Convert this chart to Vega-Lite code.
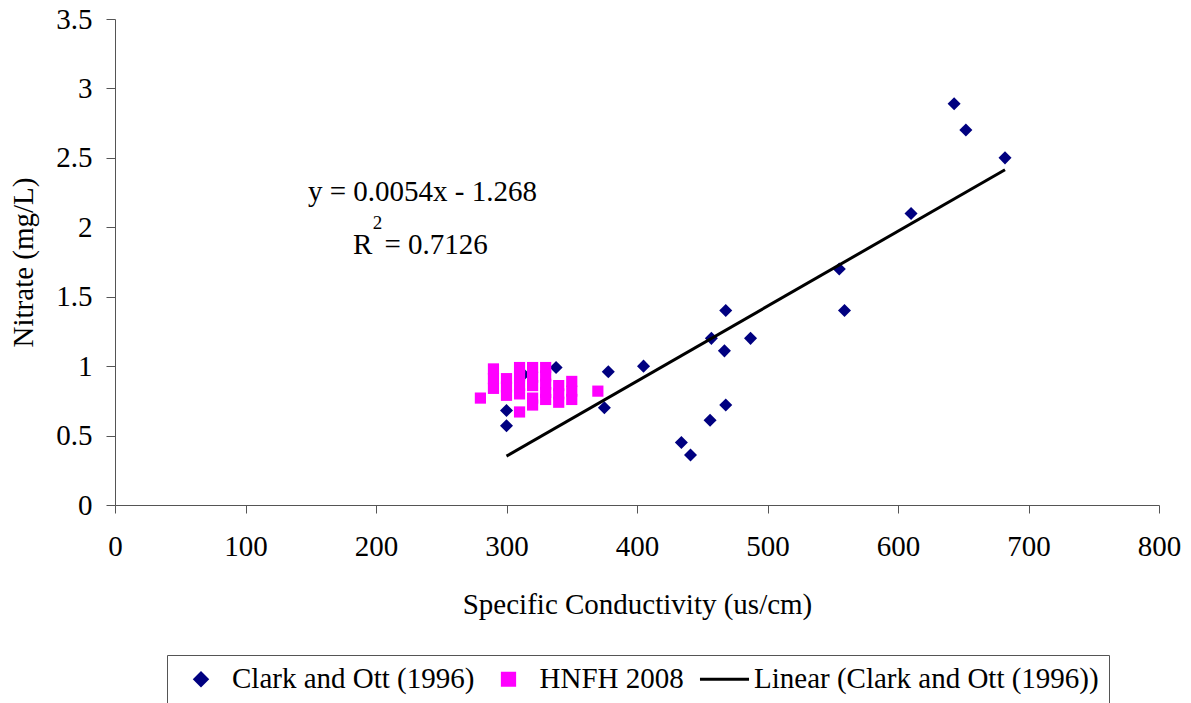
{
  "$schema": "https://vega.github.io/schema/vega-lite/v6.json",
  "width": 1044,
  "height": 486,
  "autosize": {"type": "none"},
  "padding": {"left": 115, "top": 19, "right": 32, "bottom": 198},
  "background": "white",
  "config": {
    "font": "Liberation Serif",
    "view": {"stroke": null},
    "axis": {
      "grid": false,
      "labelFlush": false,
      "domainColor": "#555555",
      "tickColor": "#555555",
      "labelFont": "Liberation Serif",
      "labelFontSize": 29,
      "labelColor": "black",
      "titleFont": "Liberation Serif",
      "titleFontSize": 29,
      "titleFontWeight": "normal",
      "titleColor": "black"
    }
  },
  "data": {
    "values": [
      {"series": "Clark and Ott (1996)", "cond": 300, "nitrate": 0.68},
      {"series": "Clark and Ott (1996)", "cond": 300, "nitrate": 0.57},
      {"series": "Clark and Ott (1996)", "cond": 313, "nitrate": 0.94},
      {"series": "Clark and Ott (1996)", "cond": 338, "nitrate": 0.99},
      {"series": "Clark and Ott (1996)", "cond": 378, "nitrate": 0.96},
      {"series": "Clark and Ott (1996)", "cond": 375, "nitrate": 0.70},
      {"series": "Clark and Ott (1996)", "cond": 405, "nitrate": 1.0},
      {"series": "Clark and Ott (1996)", "cond": 434, "nitrate": 0.45},
      {"series": "Clark and Ott (1996)", "cond": 441, "nitrate": 0.36},
      {"series": "Clark and Ott (1996)", "cond": 457, "nitrate": 1.2},
      {"series": "Clark and Ott (1996)", "cond": 456, "nitrate": 0.61},
      {"series": "Clark and Ott (1996)", "cond": 468, "nitrate": 1.4},
      {"series": "Clark and Ott (1996)", "cond": 467, "nitrate": 1.11},
      {"series": "Clark and Ott (1996)", "cond": 468, "nitrate": 0.72},
      {"series": "Clark and Ott (1996)", "cond": 487, "nitrate": 1.2},
      {"series": "Clark and Ott (1996)", "cond": 555, "nitrate": 1.7},
      {"series": "Clark and Ott (1996)", "cond": 559, "nitrate": 1.4},
      {"series": "Clark and Ott (1996)", "cond": 610, "nitrate": 2.1},
      {"series": "Clark and Ott (1996)", "cond": 643, "nitrate": 2.89},
      {"series": "Clark and Ott (1996)", "cond": 652, "nitrate": 2.7},
      {"series": "Clark and Ott (1996)", "cond": 682, "nitrate": 2.5},
      {"series": "HNFH 2008", "cond": 280, "nitrate": 0.77},
      {"series": "HNFH 2008", "cond": 290, "nitrate": 0.98},
      {"series": "HNFH 2008", "cond": 290, "nitrate": 0.91},
      {"series": "HNFH 2008", "cond": 290, "nitrate": 0.84},
      {"series": "HNFH 2008", "cond": 300, "nitrate": 0.91},
      {"series": "HNFH 2008", "cond": 300, "nitrate": 0.85},
      {"series": "HNFH 2008", "cond": 300, "nitrate": 0.79},
      {"series": "HNFH 2008", "cond": 310, "nitrate": 0.99},
      {"series": "HNFH 2008", "cond": 310, "nitrate": 0.93},
      {"series": "HNFH 2008", "cond": 310, "nitrate": 0.86},
      {"series": "HNFH 2008", "cond": 310, "nitrate": 0.80},
      {"series": "HNFH 2008", "cond": 310, "nitrate": 0.67},
      {"series": "HNFH 2008", "cond": 320, "nitrate": 0.99},
      {"series": "HNFH 2008", "cond": 320, "nitrate": 0.92},
      {"series": "HNFH 2008", "cond": 320, "nitrate": 0.86},
      {"series": "HNFH 2008", "cond": 320, "nitrate": 0.77},
      {"series": "HNFH 2008", "cond": 320, "nitrate": 0.72},
      {"series": "HNFH 2008", "cond": 330, "nitrate": 0.99},
      {"series": "HNFH 2008", "cond": 330, "nitrate": 0.93},
      {"series": "HNFH 2008", "cond": 330, "nitrate": 0.87},
      {"series": "HNFH 2008", "cond": 330, "nitrate": 0.81},
      {"series": "HNFH 2008", "cond": 330, "nitrate": 0.76},
      {"series": "HNFH 2008", "cond": 340, "nitrate": 0.86},
      {"series": "HNFH 2008", "cond": 340, "nitrate": 0.80},
      {"series": "HNFH 2008", "cond": 340, "nitrate": 0.74},
      {"series": "HNFH 2008", "cond": 350, "nitrate": 0.89},
      {"series": "HNFH 2008", "cond": 350, "nitrate": 0.82},
      {"series": "HNFH 2008", "cond": 350, "nitrate": 0.76},
      {"series": "HNFH 2008", "cond": 370, "nitrate": 0.82},
      {"series": "Linear (Clark and Ott (1996))", "cond": 300, "nitrate": 0.352},
      {"series": "Linear (Clark and Ott (1996))", "cond": 682, "nitrate": 2.4148}
    ]
  },
  "encoding": {
    "x": {
      "field": "cond",
      "type": "quantitative",
      "scale": {"domain": [0, 800], "nice": false},
      "axis": {"values": [0, 100, 200, 300, 400, 500, 600, 700, 800], "title": "Specific Conductivity (us/cm)", "tickSize": 8, "labelPadding": 19, "titlePadding": 29}
    },
    "y": {
      "field": "nitrate",
      "type": "quantitative",
      "scale": {"domain": [0, 3.5], "nice": false},
      "axis": {"values": [0, 0.5, 1, 1.5, 2, 2.5, 3, 3.5], "format": "~g", "title": "Nitrate (mg/L)", "tickSize": 9, "labelPadding": 14, "titlePadding": 17}
    }
  },
  "layer": [
    {
      "transform": [{"filter": "datum.series !== 'Linear (Clark and Ott (1996))'"}],
      "mark": {"type": "point", "filled": true, "opacity": 1},
      "encoding": {
        "color": {
          "field": "series",
          "type": "nominal",
          "scale": {
            "domain": ["Clark and Ott (1996)", "HNFH 2008", "Linear (Clark and Ott (1996))"],
            "range": ["#000080", "#ff00ff", "#000000"]
          },
          "legend": {
            "title": null,
            "orient": "none",
            "legendX": 52,
            "legendY": 636,
            "direction": "horizontal",
            "strokeColor": "#555555",
            "padding": 9.5,
            "symbolSize": 150,
            "symbolOffset": 10,
            "labelOffset": 16.5,
            "columnPadding": 9.5,
            "labelFont": "Liberation Serif",
            "labelFontSize": 29,
            "labelColor": "black",
            "labelLimit": 0,
            "symbolOpacity": 1,
            "encode": {
              "symbols": {
                "update": {
                  "stroke": {"signal": "datum.value === 'Linear (Clark and Ott (1996))' ? 'black' : 'transparent'"},
                  "strokeWidth": {"value": 3}
                }
              }
            }
          }
        },
        "shape": {
          "field": "series",
          "type": "nominal",
          "scale": {
            "domain": ["Clark and Ott (1996)", "HNFH 2008", "Linear (Clark and Ott (1996))"],
            "range": ["diamond", "square", "M-3.76,0H4.25"]
          }
        },
        "size": {
          "field": "series",
          "type": "nominal",
          "scale": {"domain": ["Clark and Ott (1996)", "HNFH 2008"], "range": [170, 125]},
          "legend": null
        }
      }
    },
    {
      "transform": [{"filter": "datum.series === 'Linear (Clark and Ott (1996))'"}],
      "mark": {"type": "line", "strokeWidth": 3},
      "encoding": {
        "color": {"field": "series", "type": "nominal"}
      }
    },
    {
      "data": {"values": [{"label": "y = 0.0054x - 1.268", "cond": 147.9, "nitrate": 2.254}]},
      "mark": {"type": "text", "font": "Liberation Serif", "fontSize": 29, "color": "black", "align": "left", "baseline": "middle"},
      "encoding": {"text": {"field": "label"}}
    },
    {
      "data": {"values": [{"label": "R", "cond": 182.4, "nitrate": 1.872}]},
      "mark": {"type": "text", "font": "Liberation Serif", "fontSize": 29, "color": "black", "align": "left", "baseline": "middle"},
      "encoding": {"text": {"field": "label"}}
    },
    {
      "data": {"values": [{"label": "2", "cond": 197.5, "nitrate": 2.03}]},
      "mark": {"type": "text", "font": "Liberation Serif", "fontSize": 19, "color": "black", "align": "left", "baseline": "middle"},
      "encoding": {"text": {"field": "label"}}
    },
    {
      "data": {"values": [{"label": "= 0.7126", "cond": 206.5, "nitrate": 1.872}]},
      "mark": {"type": "text", "font": "Liberation Serif", "fontSize": 29, "color": "black", "align": "left", "baseline": "middle"},
      "encoding": {"text": {"field": "label"}}
    }
  ]
}
